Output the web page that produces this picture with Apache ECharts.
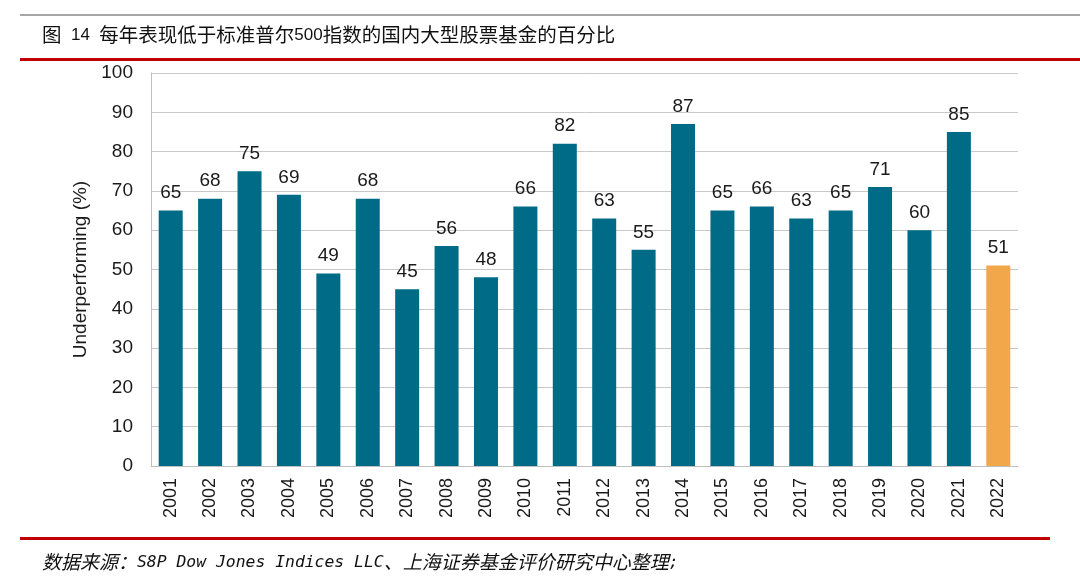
<!DOCTYPE html>
<html>
<head>
<meta charset="utf-8">
<script src="https://cdn.jsdelivr.net/npm/echarts@6/dist/echarts.min.js"></script>
<style>html,body{margin:0;padding:0;background:#fff}#c{width:1080px;height:583px}</style>
</head>
<body>
<div id="c"></div>
<script>
const years = ['2001','2002','2003','2004','2005','2006','2007','2008','2009','2010','2011','2012','2013','2014','2015','2016','2017','2018','2019','2020','2021','2022'];
const values = [65,68,75,69,49,68,45,56,48,66,82,63,55,87,65,66,63,65,71,60,85,51];
const yTicks = [0,10,20,30,40,50,60,70,80,90,100];
const titleText = '图 14 每年表现低于标准普尔500指数的国内大型股票基金的百分比';
const sourceText = '数据来源：S8P Dow Jones Indices LLC、上海证券基金评价研究中心整理;';
const highlightYear = '2022';

// split into ASCII / CJK runs for rich text styling
function toRich(s) {
  return s.match(/[\x00-\x7f]+|[^\x00-\x7f]+/g)
    .map(run => (/^[\x00-\x7f]/.test(run) ? '{a|' : '{c|') + run + '}').join('');
}

const chart = echarts.init(document.getElementById('c'));
const base = '#006B87', hi = '#F2A74A';
chart.setOption({
  animation: false,
  grid: {left: 151, right: 62, top: 73, bottom: 117},
  xAxis: {
    type: 'category', data: years,
    axisLine: {show: true, lineStyle: {color: '#BFBFBF', width: 1}},
    axisTick: {show: false},
    axisLabel: {rotate: 90, margin: 12, fontFamily: 'Liberation Sans', fontSize: 18, color: '#1a1a1a'}
  },
  yAxis: {
    type: 'value', min: 0, max: 100, interval: 10,
    name: 'Underperforming (%)', nameLocation: 'middle', nameGap: 60, nameRotate: 90,
    nameTextStyle: {fontFamily: 'Liberation Sans', fontSize: 19, color: '#1a1a1a'},
    axisLine: {show: true, lineStyle: {color: '#BFBFBF', width: 1}},
    axisTick: {show: false},
    splitLine: {show: true, lineStyle: {color: '#C8C8C8', width: 1}},
    axisLabel: {margin: 18, fontFamily: 'Liberation Sans', fontSize: 19, color: '#1a1a1a',
      formatter: v => yTicks.includes(v) ? String(v) : ''}
  },
  series: [{
    type: 'bar', barWidth: 24,
    data: values.map((v, i) => ({value: v, itemStyle: {color: years[i] === highlightYear ? hi : base}})),
    label: {show: true, position: 'top', distance: 8, fontFamily: 'Liberation Sans', fontSize: 19, color: '#1a1a1a'}
  }],
  graphic: [
    {type: 'line', shape: {x1: 20, y1: 15, x2: 1080, y2: 15}, style: {stroke: '#A6A6A6', lineWidth: 2}},
    {type: 'text', x: 42, y: 32, style: {
      text: toRich(titleText).replace('{a| 14 }', '{a|  14  }'), verticalAlign: 'middle', fill: '#111',
      rich: {
        c: {fontFamily: '"Noto Sans CJK SC"', fontSize: 19.5, fill: '#111', lineHeight: 24, verticalAlign: 'bottom'},
        a: {fontFamily: 'Liberation Sans', fontSize: 17, fill: '#111', lineHeight: 22, verticalAlign: 'bottom'}
      }}},
    {type: 'line', shape: {x1: 20, y1: 59.5, x2: 1080, y2: 59.5}, style: {stroke: '#C00000', lineWidth: 3}},
    {type: 'line', shape: {x1: 20, y1: 538.5, x2: 1050, y2: 538.5}, style: {stroke: '#C00000', lineWidth: 3}},
    {type: 'text', x: 42, y: 559, style: {
      text: toRich(sourceText), verticalAlign: 'middle', fill: '#111',
      rich: {
        c: {fontFamily: '"Noto Sans CJK SC"', fontStyle: 'italic', fontSize: 19, fill: '#111', lineHeight: 24, verticalAlign: 'bottom'},
        a: {fontFamily: '"DejaVu Sans Mono"', fontStyle: 'italic', fontSize: 16.4, fill: '#111', lineHeight: 22, verticalAlign: 'bottom'}
      }}}
  ]
});
</script>
</body>
</html>
